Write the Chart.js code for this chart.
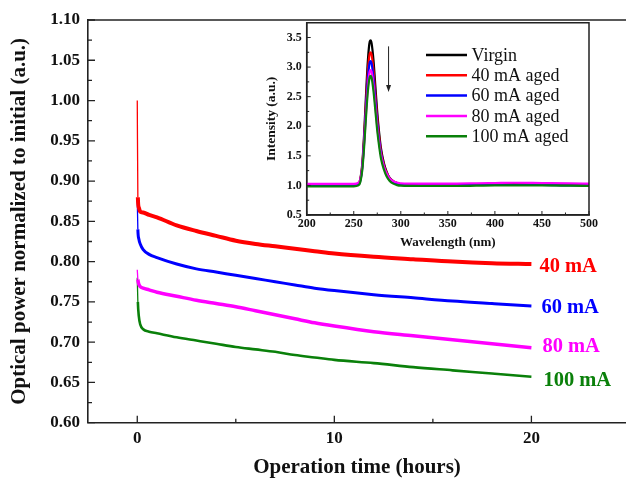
<!DOCTYPE html>
<html><head><meta charset="utf-8">
<script src="https://cdn.jsdelivr.net/npm/chart.js@4.4.1/dist/chart.umd.min.js"></script>
<style>
html,body{margin:0;padding:0;background:#fff;}
#wrap{position:relative;width:626px;height:482px;overflow:hidden;}
#main{position:absolute;left:0;top:0;}
#inset{position:absolute;left:250px;top:10px;}
</style></head><body>
<div id="wrap"><canvas id="main" width="626" height="482"></canvas><canvas id="inset" width="350" height="245"></canvas></div>
<script>
// ---- Main chart data (operation time in hours, normalized optical power) ----
const times = [0, 0.03, 0.08, 0.15, 0.3, 0.6, 1, 2, 3, 4, 5, 6, 7, 8, 9, 10, 12, 14, 16, 18, 20];
const power40 = [1.000, 0.880, 0.867, 0.862, 0.861, 0.858, 0.855, 0.845, 0.838, 0.832, 0.826, 0.822, 0.819, 0.816, 0.813, 0.810, 0.806, 0.803, 0.800, 0.798, 0.797];
const power60 = [0.878, 0.840, 0.828, 0.822, 0.815, 0.809, 0.805, 0.797, 0.791, 0.787, 0.783, 0.779, 0.775, 0.771, 0.767, 0.764, 0.759, 0.755, 0.751, 0.748, 0.745];
const power80 = [0.790, 0.778, 0.772, 0.769, 0.767, 0.765, 0.762, 0.757, 0.752, 0.748, 0.744, 0.739, 0.734, 0.729, 0.724, 0.720, 0.713, 0.708, 0.703, 0.698, 0.693];
const power100 = [0.780, 0.750, 0.732, 0.722, 0.716, 0.713, 0.711, 0.706, 0.702, 0.698, 0.694, 0.691, 0.688, 0.684, 0.681, 0.678, 0.674, 0.669, 0.665, 0.661, 0.657];
const seriesLabels = ['40 mA', '60 mA', '80 mA', '100 mA'];
const xTickValues = [0, 10, 20];
const yTickValues = [0.60, 0.65, 0.70, 0.75, 0.80, 0.85, 0.90, 0.95, 1.00, 1.05, 1.10];

// ---- Inset data (wavelength in nm, intensity a.u.) ----
const wavelength = [200, 230, 250, 255, 257, 259, 261, 263, 265, 267, 268, 269, 271, 273, 275, 277, 279, 282, 285, 288, 292, 296, 300, 320, 350, 380, 400, 420, 450, 480, 500];
const virgin   = [1.01, 1.01, 1.01, 1.03, 1.11, 1.35, 1.86, 2.52, 3.11, 3.43, 3.45, 3.40, 3.11, 2.67, 2.23, 1.89, 1.62, 1.38, 1.23, 1.13, 1.07, 1.04, 1.02, 1.01, 1.01, 1.02, 1.02, 1.03, 1.02, 1.02, 1.01];
const aged40   = [1.01, 1.01, 1.01, 1.03, 1.10, 1.32, 1.79, 2.40, 2.94, 3.23, 3.25, 3.21, 2.94, 2.53, 2.13, 1.82, 1.57, 1.35, 1.21, 1.12, 1.07, 1.04, 1.02, 1.01, 1.01, 1.02, 1.02, 1.02, 1.02, 1.01, 1.01];
const aged60   = [1.00, 1.00, 1.00, 1.02, 1.08, 1.29, 1.74, 2.30, 2.81, 3.08, 3.10, 3.06, 2.81, 2.43, 2.05, 1.76, 1.53, 1.32, 1.19, 1.11, 1.05, 1.03, 1.01, 1.00, 1.00, 1.01, 1.01, 1.01, 1.01, 1.00, 1.00];
const aged80   = [1.025, 1.025, 1.025, 1.045, 1.10, 1.30, 1.70, 2.22, 2.68, 2.93, 2.95, 2.92, 2.69, 2.34, 1.99, 1.72, 1.51, 1.32, 1.20, 1.12, 1.07, 1.05, 1.035, 1.03, 1.03, 1.035, 1.04, 1.045, 1.04, 1.035, 1.03];
const aged100  = [0.985, 0.985, 0.985, 1.00, 1.06, 1.25, 1.64, 2.15, 2.59, 2.83, 2.85, 2.82, 2.59, 2.26, 1.92, 1.66, 1.45, 1.27, 1.15, 1.08, 1.03, 1.005, 0.995, 0.99, 0.99, 0.995, 1.00, 1.00, 1.00, 0.995, 0.99];
const insetLabels = ['Virgin', '40 mA aged', '60 mA aged', '80 mA aged', '100 mA aged'];
const insetXTicks = [200, 250, 300, 350, 400, 450, 500];
const insetYTicks = [0.5, 1.0, 1.5, 2.0, 2.5, 3.0, 3.5];

const SERIF = "'Liberation Serif', 'Times New Roman', serif";
const mainColors = ['#ff0000', '#0000ff', '#ff00ff', '#0a800a'];
const mainWidths = [4, 3, 3.5, 2.6];
const insetColors = ['#000000', '#ff0000', '#0000ff', '#ff00ff', '#0a800a'];

function pts(xs, ys) { return xs.map((x, i) => ({x: x, y: ys[i]})); }

// draws inward tick marks + frame lines
function tickPlugin(id, cfg) {
  return {
    id: id,
    afterDraw(chart) {
      const {ctx, chartArea: a, scales} = chart;
      ctx.save();
      ctx.strokeStyle = '#222';
      ctx.lineWidth = cfg.lw;
      ctx.beginPath();
      const xs = cfg.xTicks, ys = cfg.yTicks;
      xs.forEach((v, i) => {
        const px = scales.x.getPixelForValue(v);
        ctx.moveTo(px, a.bottom); ctx.lineTo(px, a.bottom - cfg.major);
        if (i < xs.length - 1) {
          const m = scales.x.getPixelForValue((v + xs[i + 1]) / 2);
          ctx.moveTo(m, a.bottom); ctx.lineTo(m, a.bottom - cfg.minor);
        }
      });
      ys.forEach((v, i) => {
        const py = scales.y.getPixelForValue(v);
        ctx.moveTo(a.left, py); ctx.lineTo(a.left + cfg.major, py);
        if (i < ys.length - 1) {
          const m = scales.y.getPixelForValue((v + ys[i + 1]) / 2);
          ctx.moveTo(a.left, m); ctx.lineTo(a.left + cfg.minor, m);
        }
      });
      ctx.stroke();
      ctx.lineWidth = cfg.frameW;
      ctx.beginPath();
      if (cfg.fullBox) {
        ctx.rect(a.left, a.top, a.right - a.left, a.bottom - a.top);
      } else {
        ctx.moveTo(a.left, a.top); ctx.lineTo(a.right, a.top);
      }
      ctx.stroke();
      ctx.restore();
    }
  };
}

const mainLabelPlugin = {
  id: 'mainLabels',
  afterDatasetsDraw(chart) {
    const {ctx, scales} = chart;
    const dx = [8, 10, 11, 12], dy = [3, 2, -1, 3.5];
    ctx.save();
    ctx.font = 'bold 20.5px ' + SERIF;
    ctx.textBaseline = 'middle';
    ctx.textAlign = 'left';
    chart.data.datasets.forEach((ds, i) => {
      const last = ds.data[ds.data.length - 1];
      const px = scales.x.getPixelForValue(last.x) + dx[i];
      const py = scales.y.getPixelForValue(last.y) + dy[i];
      ctx.fillStyle = mainColors[i];
      ctx.fillText(seriesLabels[i], px, py);
    });
    ctx.restore();
  }
};

const tickFontMain = {family: SERIF, weight: 'bold', size: 17};
new Chart(document.getElementById('main'), {
  type: 'line',
  data: {
    datasets: [power40, power60, power80, power100].map((arr, i) => ({
      label: seriesLabels[i],
      data: pts(times, arr),
      borderColor: mainColors[i],
      borderWidth: mainWidths[i],
      pointRadius: 0,
      cubicInterpolationMode: 'monotone',
      segment: { borderWidth: c => (c.p0.parsed.x < 0.02 ? 1.3 : undefined) }
    }))
  },
  options: {
    responsive: false, animation: false, devicePixelRatio: 1,
    layout: {padding: {top: 20, right: 0, left: 0, bottom: 0}},
    plugins: {legend: {display: false}, tooltip: {enabled: false}},
    scales: {
      x: {
        type: 'linear', min: -2.5, max: 24.8,
        afterBuildTicks: s => { s.ticks = xTickValues.map(v => ({value: v})); },
        afterFit: s => { s.height = 59.3; },
        grid: {display: false, drawTicks: false},
        border: {display: true, color: '#222', width: 1.6},
        ticks: {padding: 6, color: '#111', font: tickFontMain, callback: v => String(v)},
        title: {display: true, text: 'Operation time (hours)', color: '#111',
                font: {family: SERIF, weight: 'bold', size: 21}, padding: {top: 0, bottom: 2}}
      },
      y: {
        type: 'linear', min: 0.6, max: 1.1,
        afterBuildTicks: s => { s.ticks = yTickValues.map(v => ({value: v})); },
        afterFit: s => { s.width = 88; },
        grid: {display: false, drawTicks: false},
        border: {display: true, color: '#222', width: 1.6},
        ticks: {padding: 8, color: '#111', font: tickFontMain, callback: v => Number(v).toFixed(2)},
        title: {display: true, text: 'Optical power normalized to initial (a.u.)', color: '#111',
                font: {family: SERIF, weight: 'bold', size: 21}, padding: {top: 7.4, bottom: 0}}
      }
    }
  },
  plugins: [tickPlugin('mainTicks', {xTicks: xTickValues, yTicks: yTickValues, major: 7, minor: 4, lw: 1.3, frameW: 1.6, fullBox: false}), mainLabelPlugin]
});

// ---- Inset ----
const insetLegendPlugin = {
  id: 'insetLegend',
  afterDraw(chart) {
    const {ctx, chartArea: a, scales} = chart;
    ctx.save();
    // arrow
    const ax = scales.x.getPixelForValue(287);
    const y0 = scales.y.getPixelForValue(3.35), y1 = scales.y.getPixelForValue(2.58);
    ctx.strokeStyle = '#222'; ctx.fillStyle = '#222'; ctx.lineWidth = 1;
    ctx.beginPath(); ctx.moveTo(ax, y0); ctx.lineTo(ax, y1 - 4); ctx.stroke();
    ctx.beginPath(); ctx.moveTo(ax, y1); ctx.lineTo(ax - 2.5, y1 - 7); ctx.lineTo(ax + 2.5, y1 - 7); ctx.closePath(); ctx.fill();
    // legend
    ctx.font = '18px ' + SERIF;
    ctx.textBaseline = 'middle'; ctx.textAlign = 'left';
    const lx = a.left + 119.3, ly = a.top + 32.3;
    insetLabels.forEach((t, i) => {
      const y = ly + i * 20.3;
      ctx.strokeStyle = insetColors[i]; ctx.lineWidth = 2.5;
      ctx.beginPath(); ctx.moveTo(lx, y); ctx.lineTo(lx + 41, y); ctx.stroke();
      ctx.fillStyle = '#111';
      ctx.fillText(t, lx + 45.5, y + 1);
    });
    ctx.restore();
  }
};
const tickFontInset = {family: SERIF, weight: 'bold', size: 12};
new Chart(document.getElementById('inset'), {
  type: 'line',
  data: {
    datasets: [virgin, aged40, aged60, aged80, aged100].map((arr, i) => ({
      label: insetLabels[i],
      data: pts(wavelength, arr),
      borderColor: insetColors[i],
      borderWidth: 2.2,
      pointRadius: 0,
      order: 4 - i,
      cubicInterpolationMode: 'monotone'
    }))
  },
  options: {
    responsive: false, animation: false, devicePixelRatio: 1,
    layout: {padding: {top: 12.7, right: 7, left: 0, bottom: 0}},
    plugins: {legend: {display: false}, tooltip: {enabled: false}},
    scales: {
      x: {
        type: 'linear', min: 200, max: 500,
        afterBuildTicks: s => { s.ticks = insetXTicks.map(v => ({value: v})); },
        afterFit: s => { s.height = 40; },
        grid: {display: false, drawTicks: false},
        border: {display: true, color: '#222', width: 1.5},
        ticks: {padding: 2, color: '#111', font: tickFontInset, callback: v => String(v)},
        title: {display: true, text: 'Wavelength (nm)', color: '#111',
                font: {family: SERIF, weight: 'bold', size: 13}, padding: {top: 0, bottom: 4.5}}
      },
      y: {
        type: 'linear', min: 0.5, max: 3.75,
        afterBuildTicks: s => { s.ticks = insetYTicks.map(v => ({value: v})); },
        afterFit: s => { s.width = 56.7; },
        grid: {display: false, drawTicks: false},
        border: {display: true, color: '#222', width: 1.5},
        ticks: {padding: 5, color: '#111', font: tickFontInset, callback: v => Number(v).toFixed(1)},
        title: {display: true, text: 'Intensity (a.u.)', color: '#111',
                font: {family: SERIF, weight: 'bold', size: 13.5}, padding: {top: 13.5, bottom: 0}}
      }
    }
  },
  plugins: [tickPlugin('insetTicks', {xTicks: insetXTicks, yTicks: insetYTicks, major: 4, minor: 2.5, lw: 1, frameW: 1.5, fullBox: true}), insetLegendPlugin]
});
</script>
</body></html>
